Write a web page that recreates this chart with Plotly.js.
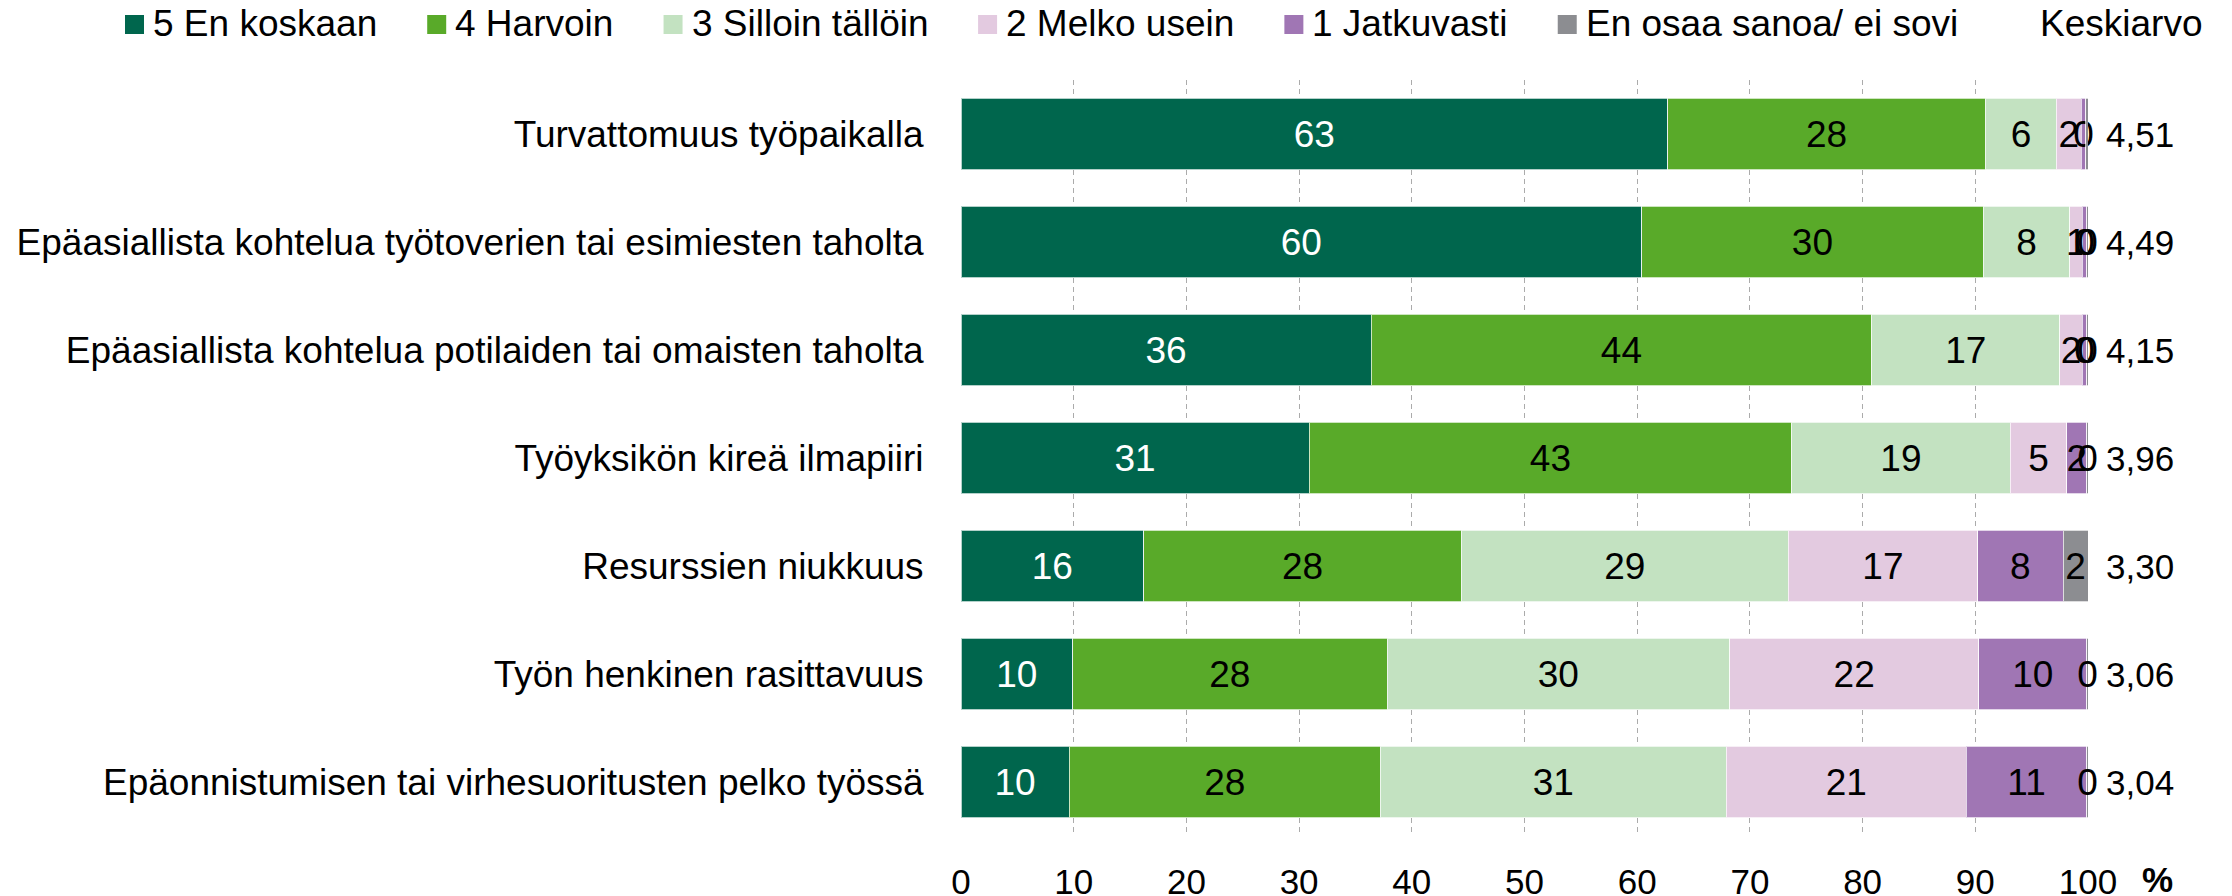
<!DOCTYPE html>
<html>
<head>
<meta charset="utf-8">
<script src="https://cdn.plot.ly/plotly-3.0.1.min.js"></script>
<style>
  html, body { margin: 0; padding: 0; background: #fff; }
  #chart { width: 2232px; height: 896px; }
</style>
</head>
<body>
<div id="chart"></div>
<script>
// ---- Data ----
const categories = [
  'Turvattomuus työpaikalla',
  'Epäasiallista kohtelua työtoverien tai esimiesten taholta',
  'Epäasiallista kohtelua potilaiden tai omaisten taholta',
  'Työyksikön kireä ilmapiiri',
  'Resurssien niukkuus',
  'Työn henkinen rasittavuus',
  'Epäonnistumisen tai virhesuoritusten pelko työssä'
];
const seriesNames = ['5 En koskaan', '4 Harvoin', '3 Silloin tällöin', '2 Melko usein', '1 Jatkuvasti', 'En osaa sanoa/ ei sovi'];
const enKoskaan   = [62.7, 60.4, 36.4, 30.9, 16.2, 9.9, 9.6];
const harvoin     = [28.2, 30.3, 44.4, 42.8, 28.2, 27.9, 27.6];
const silloinTall = [6.3, 7.7, 16.7, 19.4, 29.0, 30.4, 30.7];
const melkoUsein  = [2.2, 1.1, 2.0, 5.0, 16.8, 22.1, 21.3];
const jatkuvasti  = [0.4, 0.4, 0.4, 1.8, 7.6, 9.6, 10.7];
const eiSovi      = [0.2, 0.1, 0.1, 0.1, 2.2, 0.1, 0.1];
const keskiarvo   = [4.51, 4.49, 4.15, 3.96, 3.30, 3.06, 3.04];
const meanHeader  = 'Keskiarvo';
const xTicks      = [0, 10, 20, 30, 40, 50, 60, 70, 80, 90, 100];
const xUnit       = '%';

// ---- Styles ----
const colors = ['#00664D', '#59AA29', '#C3E2C1', '#E3CAE0', '#A076B4', '#8C8D91'];
const textColors = ['#FFFFFF', '#000000', '#000000', '#000000', '#000000', '#000000'];
const FONT = 'Liberation Sans, Arial, Helvetica, sans-serif';
const WORD_SIZE = 37;
const BAR_SIZE = 37;
const NUM_SIZE = 35;

// plot area in pixels
const PL = 961, PR = 2088, PT = 80, PB = 836;
const W = 2232, H = 896;
const px2x = p => (p - PL) / (PR - PL);
const py2y = p => (PB - p) / (PB - PT);

const allSeries = [enKoskaan, harvoin, silloinTall, melkoUsein, jatkuvasti, eiSovi];

const traces = allSeries.map((vals, i) => ({
  type: 'bar',
  orientation: 'h',
  name: seriesNames[i],
  x: vals,
  y: categories,
  marker: { color: colors[i], line: { color: 'rgba(255,255,255,0.7)', width: 1 } },
  texttemplate: '%{x:.0f}',
  textposition: 'inside',
  insidetextanchor: 'middle',
  textangle: 0,
  textfont: { family: FONT, size: BAR_SIZE, color: textColors[i] },
  cliponaxis: false,
  showlegend: false,
  hoverinfo: 'skip'
}));

const annotations = [];
const shapes = [];

// mean values
categories.forEach((c, i) => {
  annotations.push({
    xref: 'paper', yref: 'y',
    x: px2x(2104), y: c,
    xanchor: 'left', yanchor: 'middle',
    text: keskiarvo[i].toFixed(2).replace('.', ','),
    showarrow: false,
    font: { family: FONT, size: NUM_SIZE, color: '#000' }
  });
});

// % unit label
annotations.push({
  xref: 'paper', yref: 'paper',
  x: px2x(2157), y: py2y(879),
  xanchor: 'center', yanchor: 'middle',
  height: 30,
  text: '<b>' + xUnit + '</b>',
  showarrow: false,
  font: { family: FONT, size: NUM_SIZE, color: '#000' }
});

// custom legend (measured with canvas)
const ctx = document.createElement('canvas').getContext('2d');
ctx.font = WORD_SIZE + 'px "Liberation Sans"';
let cx = 125;
const LEG_TEXT_Y = 24;
seriesNames.forEach((name, i) => {
  shapes.push({
    type: 'rect', xref: 'paper', yref: 'paper',
    x0: px2x(cx), x1: px2x(cx + 19), y0: py2y(34), y1: py2y(15),
    fillcolor: colors[i], line: { width: 0 }
  });
  const tx = cx + 19 + 7;
  annotations.push({
    xref: 'paper', yref: 'paper',
    x: px2x(tx), y: py2y(LEG_TEXT_Y),
    xanchor: 'left', yanchor: 'middle',
    text: name, showarrow: false,
    font: { family: FONT, size: WORD_SIZE, color: '#000' }
  });
  const w = ctx.measureText(name).width;
  cx = tx + w + 52;
});
annotations.push({
  xref: 'paper', yref: 'paper',
  x: px2x(2038), y: py2y(LEG_TEXT_Y),
  xanchor: 'left', yanchor: 'middle',
  text: meanHeader, showarrow: false,
  font: { family: FONT, size: WORD_SIZE, color: '#000' }
});

const layout = {
  width: W, height: H,
  barmode: 'stack',
  bargap: 0.338,
  paper_bgcolor: '#fff', plot_bgcolor: '#fff',
  margin: { l: PL, r: W - PR, t: PT, b: H - PB, pad: 0 },
  showlegend: false,
  font: { family: FONT, color: '#000' },
  uniformtext: { mode: 'show', minsize: BAR_SIZE },
  xaxis: {
    range: [0, 100],
    tickvals: xTicks,
    ticktext: xTicks.map(String),
    showgrid: true,
    gridcolor: '#ABABAB',
    gridwidth: 1,
    griddash: '5px,4px',
    zeroline: false,
    showline: false,
    ticks: 'outside', ticklen: 15, tickcolor: 'rgba(0,0,0,0)',
    tickfont: { family: FONT, size: NUM_SIZE, color: '#000' },
    fixedrange: true
  },
  yaxis: {
    type: 'category',
    categoryorder: 'array',
    categoryarray: categories,
    range: [6.5, -0.5],
    showgrid: false,
    zeroline: false,
    showline: false,
    ticks: 'outside', ticklen: 29, tickcolor: 'rgba(0,0,0,0)',
    tickfont: { family: FONT, size: WORD_SIZE, color: '#000' },
    fixedrange: true
  },
  annotations: annotations,
  shapes: shapes
};

Plotly.newPlot('chart', traces, layout, { staticPlot: true, displayModeBar: false });
</script>
</body>
</html>
